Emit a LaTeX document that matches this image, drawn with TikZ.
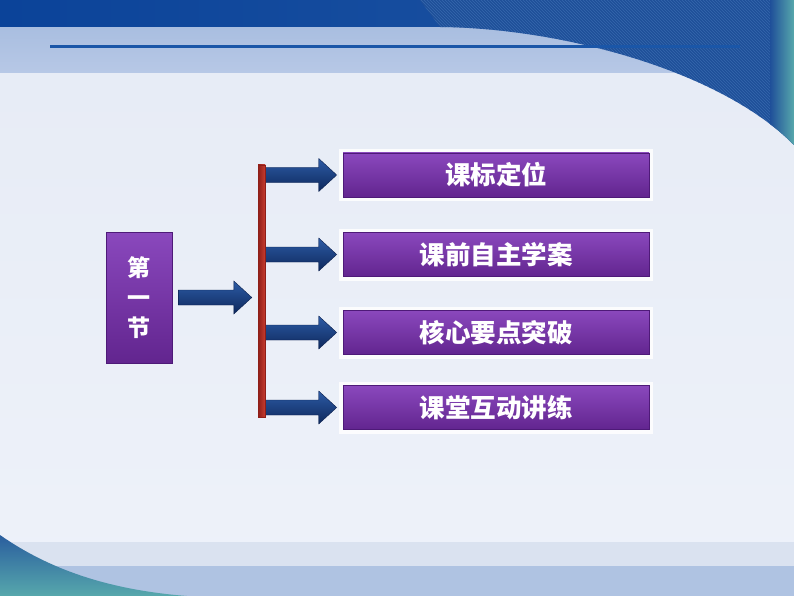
\documentclass[tikz,border=0pt]{standalone}
\usepackage{fontspec}
\newfontfamily\cjk{Noto Sans CJK SC}
\usetikzlibrary{arrows.meta,patterns,calc}
\definecolor{bgtop}{HTML}{E6EBF5}
\definecolor{bgbot}{HTML}{EEF2FA}
\definecolor{darkband1}{HTML}{0B4399}
\definecolor{darkband2}{HTML}{1F55A3}
\definecolor{lightband}{HTML}{A9BEE0}
\definecolor{lightband2}{HTML}{B7C8E6}
\definecolor{curveblue}{HTML}{1F4F99}
\definecolor{hatch}{HTML}{3568AD}
\definecolor{tealA}{HTML}{2A5E9E}
\definecolor{tealB}{HTML}{57A8AC}
\definecolor{rule}{HTML}{1A56A8}
\definecolor{botband1}{HTML}{DAE2F0}
\definecolor{botband2}{HTML}{AFC3E2}
\definecolor{purpleTop}{HTML}{8A48BD}
\definecolor{purpleBot}{HTML}{62258F}
\definecolor{purpleEdge}{HTML}{4E1A78}
\definecolor{navyTop}{HTML}{2D5BA5}
\definecolor{navyBot}{HTML}{0D285C}
\definecolor{navyEdge}{HTML}{0A1F4D}
\definecolor{barred}{HTML}{C63B2F}
\definecolor{bardark}{HTML}{8E1E18}
\newcommand\barrow[2]{%
  \path[arrowshade] let \p1=#1, \p2=#2 in
    (\x1,\y1+7.5pt) -- (\x2-18pt,\y1+7.5pt) -- (\x2-18pt,\y1+16.5pt) -- (\x2,\y1)
    -- (\x2-18pt,\y1-16.5pt) -- (\x2-18pt,\y1-7.5pt) -- (\x1,\y1-7.5pt) -- cycle;}
\begin{document}
\begin{tikzpicture}[x=1pt,y=-1pt,
  pbox/.style={rectangle, inner sep=0pt, minimum width=306pt, minimum height=44pt,
    top color=purpleTop, bottom color=purpleBot, draw=purpleEdge, line width=0.6pt,
    text=white, font=\cjk\bfseries\fontsize{25.5}{30}\selectfont,
    preaction={draw=white, line width=8pt, draw opacity=0.85}},
  sbox/.style={rectangle, inner sep=0pt, minimum width=66pt, minimum height=131pt,
    top color=purpleTop, bottom color=purpleBot, draw=purpleEdge, line width=0.6pt,
    text=white, align=center, font=\cjk\bfseries\fontsize{23}{30}\selectfont},
  arrowshade/.style={top color=navyTop, bottom color=navyBot, draw=navyEdge, line width=0.4pt},
  barstyle/.style={rectangle, inner sep=0pt, minimum width=7pt, minimum height=252pt,
    left color=bardark, right color=barred, draw=bardark, line width=0.4pt}
]
\useasboundingbox (0,0) rectangle (794,596);
% background
\shade[top color=bgtop, bottom color=bgbot] (0,0) rectangle (794,596);
\shade[top color=lightband, bottom color=lightband2] (0,27) rectangle (794,73);
\shade[left color=darkband1, right color=darkband2] (0,0) rectangle (794,27);
% right curved region
\fill[curveblue] (440,27) .. controls (560,28) and (720,70) .. (794,145) -- (794,0) -- (420,0) -- cycle;
\fill[pattern=north west lines, pattern color=hatch] (440,27) .. controls (560,28) and (720,70) .. (794,145) -- (794,0) -- (420,0) -- cycle;
\begin{scope}
\clip (440,27) .. controls (560,28) and (720,70) .. (794,145) -- (794,0) -- (420,0) -- cycle;
\shade[left color=curveblue, right color=tealB] (770,0) rectangle (794,150);
\end{scope}
% rule line
\fill[rule] (50,45.5) rectangle (740,48.5);
% bottom bands
\fill[botband1] (0,542) rectangle (794,566);
\fill[botband2] (0,566) rectangle (794,596);
\shade[top color=tealA, bottom color=tealB] (0,535) .. controls (50,570) and (110,590) .. (187,596) -- (0,596) -- cycle;
% nodes
\node[sbox] (s) at (139,297.5) {第\\一\\节};
\node[barstyle] (bar) at (261.5,291) {};
\node[pbox] (b1) at (496,175) {课标定位};
\node[pbox] (b2) at (496,254.5) {课前自主学案};
\node[pbox] (b3) at (496,332.5) {核心要点突破};
\node[pbox] (b4) at (496,407.5) {课堂互动讲练};
% arrows
\barrow{($(s.east)+(6,0)$)}{($(s.east -| bar.west)+(-6,0)$)}
\foreach \b in {b1,b2,b3,b4}{
  \barrow{(bar.east |- \b.west)}{($(\b.west)+(-6,0)$)}
}
\node[barstyle] at (bar) {};
\end{tikzpicture}
\end{document}
